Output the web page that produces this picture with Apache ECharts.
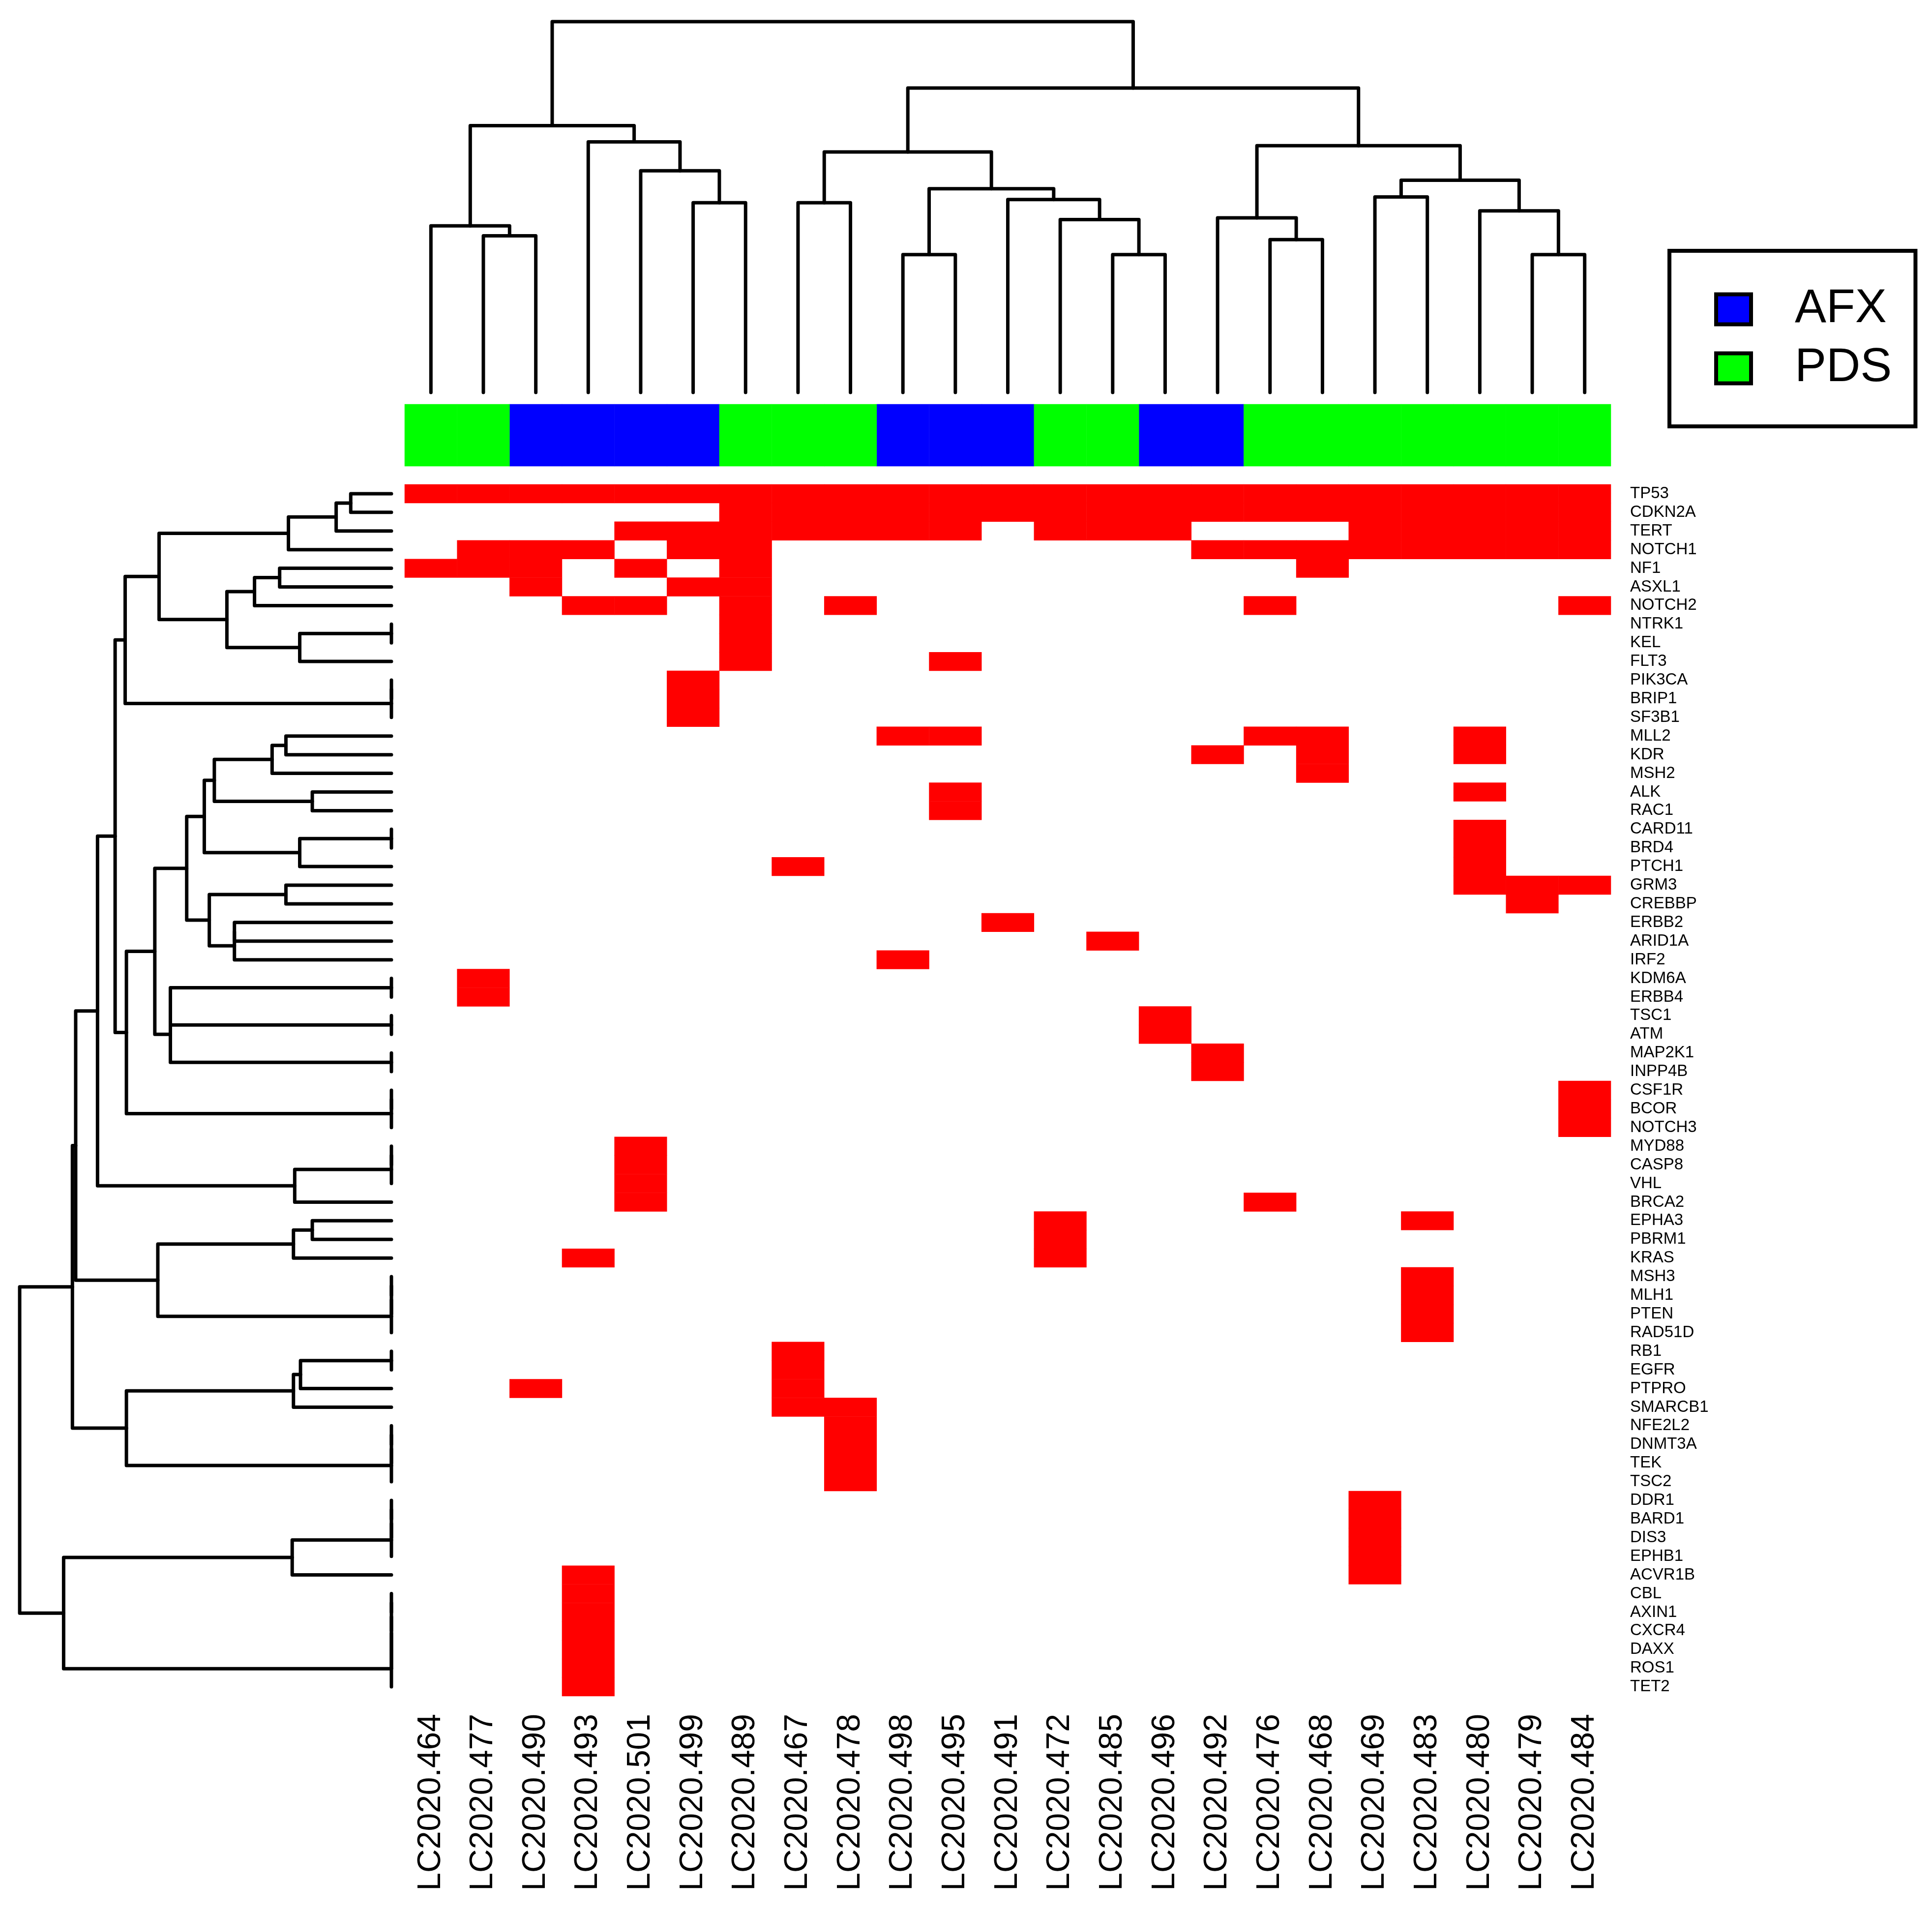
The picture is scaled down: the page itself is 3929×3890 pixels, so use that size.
<!DOCTYPE html>
<html>
<head>
<meta charset="utf-8">
<script src="https://cdn.jsdelivr.net/npm/echarts@6/dist/echarts.min.js"></script>
<style>
  html, body { margin: 0; padding: 0; background: #fff; }
  #chart { width: 3929px; height: 3890px; }
</style>
</head>
<body>
<div id="chart"></div>
<script>
const samples = ['LC2020.464', 'LC2020.477', 'LC2020.490', 'LC2020.493', 'LC2020.501', 'LC2020.499',
  'LC2020.489', 'LC2020.467', 'LC2020.478', 'LC2020.498', 'LC2020.495', 'LC2020.491', 'LC2020.472',
  'LC2020.485', 'LC2020.496', 'LC2020.492', 'LC2020.476', 'LC2020.468', 'LC2020.469', 'LC2020.483',
  'LC2020.480', 'LC2020.479', 'LC2020.484'];

const sampleGroup = ['PDS', 'PDS', 'AFX', 'AFX', 'AFX', 'AFX', 'PDS', 'PDS', 'PDS', 'AFX', 'AFX', 'AFX',
  'PDS', 'PDS', 'AFX', 'AFX', 'PDS', 'PDS', 'PDS', 'PDS', 'PDS', 'PDS', 'PDS'];

const genes = ['TP53', 'CDKN2A', 'TERT', 'NOTCH1', 'NF1', 'ASXL1', 'NOTCH2', 'NTRK1', 'KEL', 'FLT3',
  'PIK3CA', 'BRIP1', 'SF3B1', 'MLL2', 'KDR', 'MSH2', 'ALK', 'RAC1', 'CARD11', 'BRD4', 'PTCH1', 'GRM3',
  'CREBBP', 'ERBB2', 'ARID1A', 'IRF2', 'KDM6A', 'ERBB4', 'TSC1', 'ATM', 'MAP2K1', 'INPP4B', 'CSF1R',
  'BCOR', 'NOTCH3', 'MYD88', 'CASP8', 'VHL', 'BRCA2', 'EPHA3', 'PBRM1', 'KRAS', 'MSH3', 'MLH1', 'PTEN',
  'RAD51D', 'RB1', 'EGFR', 'PTPRO', 'SMARCB1', 'NFE2L2', 'DNMT3A', 'TEK', 'TSC2', 'DDR1', 'BARD1', 'DIS3',
  'EPHB1', 'ACVR1B', 'CBL', 'AXIN1', 'CXCR4', 'DAXX', 'ROS1', 'TET2'];

// mutated sample columns for each gene (same order as genes)
const mutatedCols = [
  [0, 1, 2, 3, 4, 5, 6, 7, 8, 9, 10, 11, 12, 13, 14, 15, 16, 17, 18, 19, 20, 21, 22], // TP53
  [6, 7, 8, 9, 10, 11, 12, 13, 14, 15, 16, 17, 18, 19, 20, 21, 22],                 // CDKN2A
  [4, 5, 6, 7, 8, 9, 10, 12, 13, 14, 18, 19, 20, 21, 22],                           // TERT
  [1, 2, 3, 5, 6, 15, 16, 17, 18, 19, 20, 21, 22],                                  // NOTCH1
  [0, 1, 2, 4, 6, 17],  // NF1
  [2, 5, 6],            // ASXL1
  [3, 4, 6, 8, 16, 22], // NOTCH2
  [6], [6], [6, 10],    // NTRK1 KEL FLT3
  [5], [5], [5],        // PIK3CA BRIP1 SF3B1
  [9, 10, 16, 17, 20],  // MLL2
  [15, 17, 20],         // KDR
  [17],                 // MSH2
  [10, 20], [10],       // ALK RAC1
  [20], [20], [7, 20],  // CARD11 BRD4 PTCH1
  [20, 21, 22], [21],   // GRM3 CREBBP
  [11], [13], [9],      // ERBB2 ARID1A IRF2
  [1], [1],             // KDM6A ERBB4
  [14], [14],           // TSC1 ATM
  [15], [15],           // MAP2K1 INPP4B
  [22], [22], [22],     // CSF1R BCOR NOTCH3
  [4], [4], [4], [4, 16], // MYD88 CASP8 VHL BRCA2
  [12, 19], [12], [3, 12], // EPHA3 PBRM1 KRAS
  [19], [19], [19], [19],  // MSH3 MLH1 PTEN RAD51D
  [7], [7], [2, 7], [7, 8], // RB1 EGFR PTPRO SMARCB1
  [8], [8], [8], [8],       // NFE2L2 DNMT3A TEK TSC2
  [18], [18], [18], [18], [3, 18], // DDR1 BARD1 DIS3 EPHB1 ACVR1B
  [3], [3], [3], [3], [3], [3]     // CBL AXIN1 CXCR4 DAXX ROS1 TET2
];

// dendrograms: [left, right, mergeHeight]; a number is a leaf index
const colTreeA = [[0, [1, 2, 625], 665], [3, [4, [5, 6, 757], 885], 1000], 1065];
const colTreeB = [[7, 8, 757], [[9, 10, 550], [11, [12, [13, 14, 550], 690], 770], 813], 960];
const colTreeC = [[15, [16, 17, 610], 697], [[18, 19, 780], [20, [21, 22, 550], 725], 847], 985];
const colTree = [colTreeA, [colTreeB, colTreeC, 1215], 1480];

const rowTreeA = [[[[[0, 1, 162], 2, 220], 3, 410], [[[4, 5, 445], 6, 545], [[7, 8, 0], 9, 365], 655], 925],
  [[10, 11, 0], 12, 0], 1060];
const rowTreeB = [[[[[13, 14, 420], 15, 475], [16, 17, 315], 705], [[18, 19, 0], 20, 365], 745],
  [[21, 22, 420], [[23, 24, 625], 25, 625], 725], 815];
const rowTreeC = [[[26, 27, 0], [28, 29, 0], 880], [30, 31, 0], 880];
const rowTreeD = [[rowTreeB, rowTreeC, 942], [[32, 33, 0], 34, 0], 1055];
const rowTreeE = [[[35, 36, 0], 37, 0], 38, 385];
const rowTreeF = [[[39, 40, 315], 41, 390], [[[42, 43, 0], 44, 0], 45, 0], 930];
const rowTreeG = [[[[46, 47, 0], 48, 362], 49, 390], [[[50, 51, 0], 52, 0], 53, 0], 1055];
const rowTreeH = [[[[[54, 55, 0], 56, 0], 57, 0], 58, 395], [[[[[59, 60, 0], 61, 0], 62, 0], 63, 0], 64, 0], 1305];
const rowTree = [[[[[rowTreeA, rowTreeD, 1100], rowTreeE, 1170], rowTreeF, 1257], rowTreeG, 1270], rowTreeH, 1480];

const FONT = "'Liberation Sans', Arial, Helvetica, sans-serif";

// walk a tree and collect the U shaped segments, leaves sit at height 0
function dendroSegments(node, segs) {
  if (typeof node === 'number') return { pos: node, h: 0 };
  const a = dendroSegments(node[0], segs);
  const b = dendroSegments(node[1], segs);
  const h = node[2];
  segs.push([[a.pos, a.h], [a.pos, h], [b.pos, h], [b.pos, b.h]]);
  return { pos: (a.pos + b.pos) / 2, h: h };
}

const colSegs = [];
dendroSegments(colTree, colSegs);
const rowSegs = [];
dendroSegments(rowTree, rowSegs);

const mutData = [];
mutatedCols.forEach(function (cols, row) {
  cols.forEach(function (c) { mutData.push([c, row, 1]); });
});
const afxData = [];
const pdsData = [];
sampleGroup.forEach(function (g, i) {
  if (g === 'AFX') afxData.push([i, 0, 1]);
  else pdsData.push([i, 0, 1]);
});

const lineStyle = { color: '#000', width: 7, opacity: 1, curveness: 0, cap: 'round', join: 'round' };

const myChart = echarts.init(document.getElementById('chart'));
myChart.setOption({
  animation: false,
  backgroundColor: '#fff',
  grid: [
    { left: 823, top: 985, width: 2453, height: 2464 },
    { left: 823, top: 822, width: 2453, height: 126 },
    { left: 823, top: 44, width: 2453, height: 754 },
    { left: 40, top: 985, width: 756, height: 2464 }
  ],
  xAxis: [
    {
      gridIndex: 0, type: 'category', data: samples, position: 'bottom',
      axisLine: { show: false }, axisTick: { show: false }, splitLine: { show: false },
      axisLabel: { rotate: 90, interval: 0, margin: 36, fontSize: 66, color: '#000', fontFamily: FONT }
    },
    { gridIndex: 1, type: 'category', data: samples, show: false },
    { gridIndex: 2, type: 'value', min: -0.5, max: 22.5, show: false },
    { gridIndex: 3, type: 'value', min: 0, max: 1480, inverse: true, show: false }
  ],
  yAxis: [
    {
      gridIndex: 0, type: 'category', data: genes, inverse: true, position: 'right',
      axisLine: { show: false }, axisTick: { show: false }, splitLine: { show: false },
      axisLabel: { interval: 0, margin: 39, fontSize: 33, color: '#000', fontFamily: FONT }
    },
    { gridIndex: 1, type: 'category', data: ['group'], show: false },
    { gridIndex: 2, type: 'value', min: 0, max: 1480, show: false },
    { gridIndex: 3, type: 'value', min: -0.5, max: 64.5, inverse: true, show: false }
  ],
  legend: {
    data: ['AFX', 'PDS'],
    orient: 'vertical',
    left: 3395,
    top: 510,
    padding: [71, 48, 70, 91],
    itemGap: 24,
    itemWidth: 71,
    itemHeight: 61,
    icon: 'rect',
    selectedMode: false,
    borderColor: '#000',
    borderWidth: 8,
    itemStyle: { borderColor: '#000', borderWidth: 8 },
    textStyle: { fontSize: 96, color: '#000', fontFamily: FONT, padding: [0, 0, 0, 84] }
  },
  series: [
    {
      name: 'mutation', type: 'heatmap', xAxisIndex: 0, yAxisIndex: 0,
      data: mutData, itemStyle: { color: '#ff0000' }, emphasis: { disabled: true }
    },
    {
      name: 'AFX', type: 'heatmap', xAxisIndex: 1, yAxisIndex: 1,
      data: afxData, itemStyle: { color: '#0000ff' }, emphasis: { disabled: true }
    },
    {
      name: 'PDS', type: 'heatmap', xAxisIndex: 1, yAxisIndex: 1,
      data: pdsData, itemStyle: { color: '#00ff00' }, emphasis: { disabled: true }
    },
    {
      type: 'lines', coordinateSystem: 'cartesian2d', xAxisIndex: 2, yAxisIndex: 2,
      polyline: true, clip: false, silent: true, lineStyle: lineStyle,
      data: colSegs.map(function (s) { return { coords: s }; })
    },
    {
      type: 'lines', coordinateSystem: 'cartesian2d', xAxisIndex: 3, yAxisIndex: 3,
      polyline: true, clip: false, silent: true, lineStyle: lineStyle,
      data: rowSegs.map(function (s) { return { coords: s.map(function (p) { return [p[1], p[0]]; }) }; })
    }
  ]
});
</script>
</body>
</html>
